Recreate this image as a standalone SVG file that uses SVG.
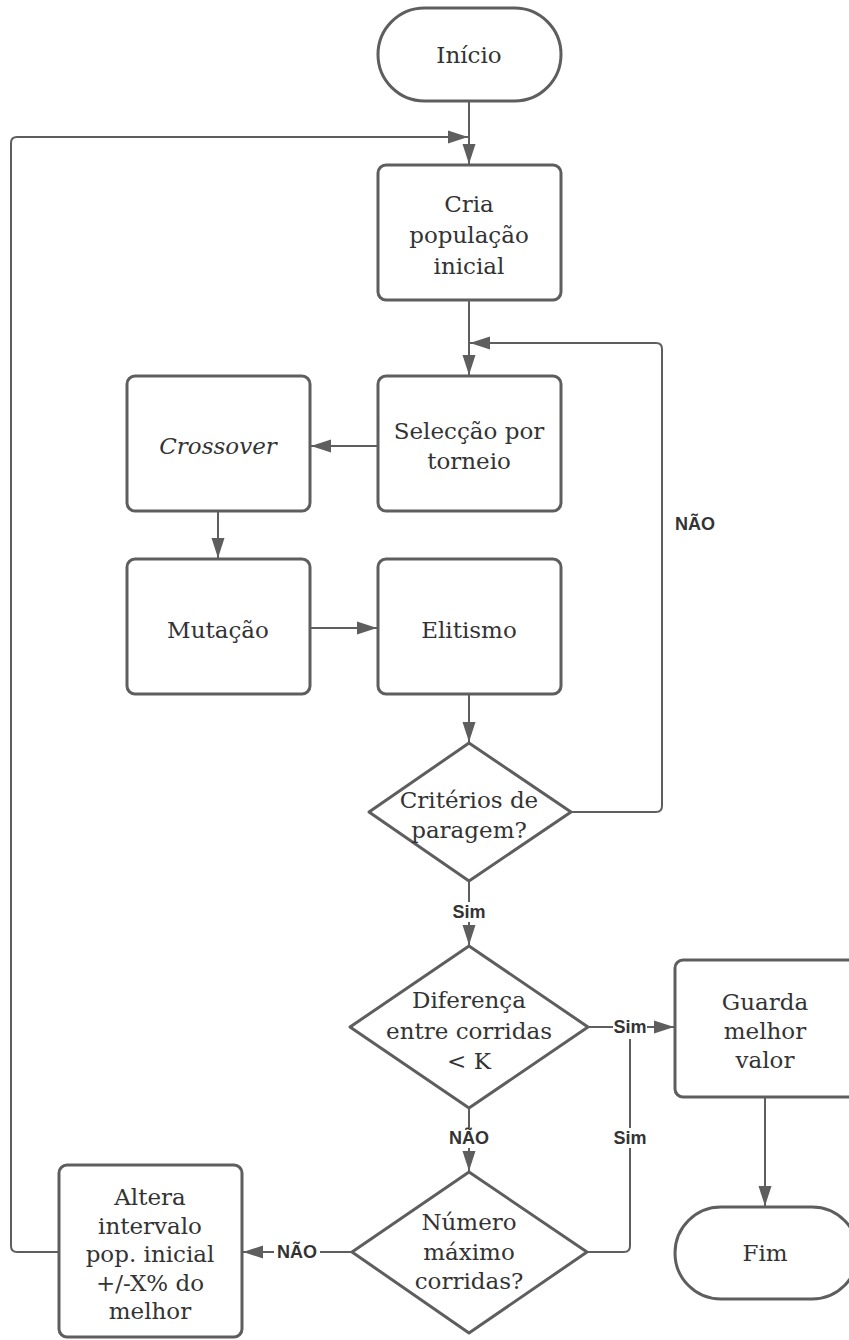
<svg xmlns="http://www.w3.org/2000/svg" width="849" height="1340" viewBox="0 0 849 1340">
  <style>
    .shape { fill: #ffffff; stroke: #5e5e5e; stroke-width: 3; }
    .conn { fill: none; stroke: #5e5e5e; stroke-width: 2; }
    .txt { font-family: "DejaVu Serif", "Liberation Serif", serif; font-size: 23px; fill: #333333; text-anchor: middle; }
    .lbl { font-family: "Liberation Sans", Arial, sans-serif; font-size: 18px; font-weight: bold; fill: #333333; text-anchor: middle; }
    .lblbg { fill: #ffffff; }
  </style>
  <defs>
    <marker id="arrow" markerUnits="userSpaceOnUse" markerWidth="20" markerHeight="14" viewBox="0 0 20 14" refX="20" refY="7" orient="auto">
      <path d="M0,0.5 L20,7 L0,13.5 Z" fill="#5e5e5e"/>
    </marker>
  </defs>
  <rect width="849" height="1340" fill="#ffffff"/>

  <!-- connectors -->
  <g id="connectors">
    <path class="conn" d="M469,101 V164" marker-end="url(#arrow)"/>
    <path class="conn" d="M59,1252 H17 Q11,1252 11,1246 V143 Q11,137 17,137 H468" marker-end="url(#arrow)"/>
    <path class="conn" d="M469,300 V375" marker-end="url(#arrow)"/>
    <path class="conn" d="M572,812 H656 Q662,812 662,806 V349 Q662,343 656,343 H470" marker-end="url(#arrow)"/>
    <path class="conn" d="M378,446 H311" marker-end="url(#arrow)"/>
    <path class="conn" d="M218,511 V558" marker-end="url(#arrow)"/>
    <path class="conn" d="M310,628 H377" marker-end="url(#arrow)"/>
    <path class="conn" d="M469,694 V742" marker-end="url(#arrow)"/>
    <path class="conn" d="M469,881 V945" marker-end="url(#arrow)"/>
    <path class="conn" d="M588,1027 H674" marker-end="url(#arrow)"/>
    <path class="conn" d="M765,1097 V1206" marker-end="url(#arrow)"/>
    <path class="conn" d="M469,1108 V1171" marker-end="url(#arrow)"/>
    <path class="conn" d="M588,1252 H624 Q630,1252 630,1246 V1039"/>
    <path class="conn" d="M352,1252 H243" marker-end="url(#arrow)"/>
    <!-- connector labels -->
    <rect class="lblbg" x="613" y="1017" width="34" height="20"/>
    <text class="lbl" x="630" y="1033">Sim</text>
    <rect class="lblbg" x="452" y="902" width="34" height="20"/>
    <text class="lbl" x="469" y="918">Sim</text>
    <rect class="lblbg" x="446" y="1128" width="46" height="20"/>
    <text class="lbl" x="469" y="1144">NÃO</text>
    <rect class="lblbg" x="613" y="1128" width="34" height="20"/>
    <text class="lbl" x="630" y="1144">Sim</text>
    <rect class="lblbg" x="274" y="1242" width="46" height="20"/>
    <text class="lbl" x="297" y="1258">NÃO</text>
    <text class="lbl" x="695" y="530">NÃO</text>
  </g>

  <g id="inicio">
    <rect class="shape" x="378" y="8" width="183" height="93" rx="46.5"/>
    <text class="txt" x="469" y="63">Início</text>
  </g>
  <g id="cria-populacao">
    <rect class="shape" x="378" y="165" width="183" height="135" rx="8"/>
    <text class="txt" x="469" y="212">Cria</text>
    <text class="txt" x="469" y="243">população</text>
    <text class="txt" x="469" y="274">inicial</text>
  </g>
  <g id="seleccao">
    <rect class="shape" x="378" y="376" width="183" height="135" rx="8"/>
    <text class="txt" x="469" y="439">Selecção por</text>
    <text class="txt" x="469" y="469">torneio</text>
  </g>
  <g id="crossover">
    <rect class="shape" x="127" y="376" width="183" height="135" rx="8"/>
    <text class="txt" x="218" y="454" font-style="italic">Crossover</text>
  </g>
  <g id="mutacao">
    <rect class="shape" x="127" y="559" width="183" height="135" rx="8"/>
    <text class="txt" x="218" y="638">Mutação</text>
  </g>
  <g id="elitismo">
    <rect class="shape" x="378" y="559" width="183" height="135" rx="8"/>
    <text class="txt" x="469" y="638">Elitismo</text>
  </g>
  <g id="criterios">
    <path class="shape" stroke-linejoin="round" d="M469,743 L571,812 L469,881 L369,812 Z"/>
    <text class="txt" x="469" y="808">Critérios de</text>
    <text class="txt" x="469" y="838">paragem?</text>
  </g>
  <g id="diferenca">
    <path class="shape" stroke-linejoin="round" d="M469,946 L588,1027 L469,1108 L350,1027 Z"/>
    <text class="txt" x="469" y="1008">Diferença</text>
    <text class="txt" x="469" y="1039">entre corridas</text>
    <text class="txt" x="469" y="1069">&lt; K</text>
  </g>
  <g id="guarda">
    <rect class="shape" x="675" y="960" width="183" height="137" rx="8"/>
    <text class="txt" x="765" y="1010">Guarda</text>
    <text class="txt" x="765" y="1039">melhor</text>
    <text class="txt" x="765" y="1068">valor</text>
  </g>
  <g id="fim">
    <rect class="shape" x="675" y="1207" width="183" height="92" rx="46"/>
    <text class="txt" x="765" y="1261">Fim</text>
  </g>
  <g id="numero-maximo">
    <path class="shape" stroke-linejoin="round" d="M469,1172 L587,1252 L469,1333 L352,1252 Z"/>
    <text class="txt" x="469" y="1230">Número</text>
    <text class="txt" x="469" y="1260">máximo</text>
    <text class="txt" x="469" y="1289">corridas?</text>
  </g>
  <g id="altera">
    <rect class="shape" x="59" y="1165" width="183" height="172" rx="8"/>
    <text class="txt" x="150" y="1205">Altera</text>
    <text class="txt" x="150" y="1234">intervalo</text>
    <text class="txt" x="150" y="1262">pop. inicial</text>
    <text class="txt" x="150" y="1291">+/-X% do</text>
    <text class="txt" x="150" y="1319">melhor</text>
  </g>
</svg>
